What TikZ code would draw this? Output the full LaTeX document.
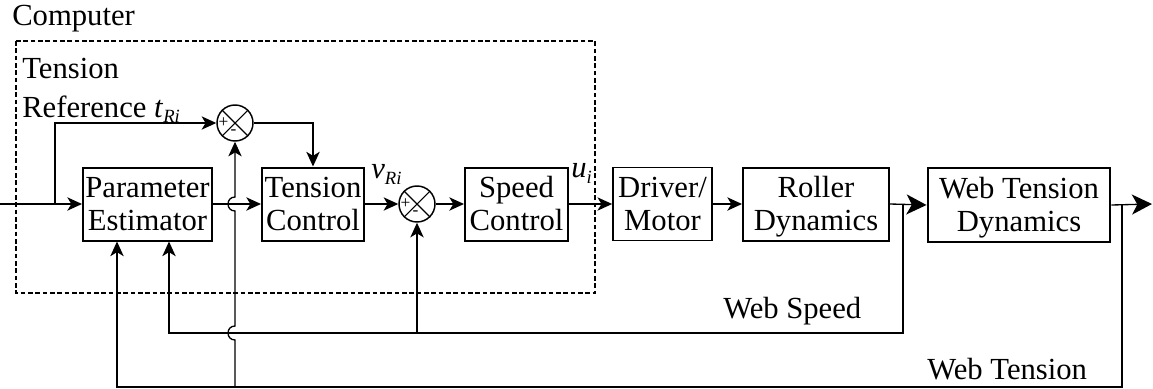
\documentclass[tikz,border=0pt]{standalone}
\usepackage{fontspec}
\setmainfont{Liberation Serif}
\usetikzlibrary{arrows.meta,calc}
\newcommand{\topstrut}{\rule{0pt}{22pt}}
\newcommand{\botstrut}{\rule[-6.8pt]{0pt}{6.8pt}}
\begin{document}
\begin{tikzpicture}[x=0.75pt,y=-0.75pt,
  font=\fontsize{23}{25}\selectfont,
  blk/.style={draw,line width=1.5pt,minimum height=54.75pt,inner sep=0pt,align=center},
  sumc/.style={draw,circle,line width=1.1pt,minimum size=27pt,inner sep=0pt},
  sgn/.style={inner sep=0pt,font=\fontsize{13}{13}\selectfont},
  sig/.style={line width=1pt,-{Stealth[length=11pt,width=10pt,inset=3pt]}},
  bigsig/.style={line width=1pt,-{Stealth[length=15pt,width=15pt,inset=4pt]}},
  lbl/.style={inner sep=0pt,anchor=base west},
  frame/.style={line width=1.2pt,dash pattern=on 3.5pt off 2pt}]
\useasboundingbox (0,0) rectangle (1153,389);
% computer frame
\draw[frame] (16,41) rectangle (595,293);
% labels
\node[lbl] (comp) at (12,26) {Computer};
\node[lbl] (tens) at (22,78) {Tension};
\node[lbl] (ref) at (22,117) {Reference \textit{t}\raisebox{-4pt}{\fontsize{14}{14}\selectfont\itshape Ri}};
\node[lbl] (vri) at (371,178) {\textit{v}\raisebox{-5pt}{\fontsize{14}{14}\selectfont\itshape Ri}};
\node[lbl] (ui) at (571,177) {\textit{u}\raisebox{-5pt}{\fontsize{14}{14}\selectfont\itshape i}};
\node[lbl] (wsp) at (723,318) {Web Speed};
\node[lbl] (wte) at (927,379) {Web Tension};
% blocks
\node[blk,minimum width=96.75pt] (pe) at (147.5,204) {\topstrut Parameter\\Estimator\botstrut};
\node[blk,minimum width=76.5pt] (tc) at (313,204) {\topstrut Tension\\Control\botstrut};
\node[sumc] (s1) at (235,123) {};
\node[sumc] (s2) at (417,204) {};
\node[blk,minimum width=77.25pt] (sc) at (516.5,204) {\topstrut Speed\\Control\botstrut};
\node[blk,line width=1.3pt,minimum width=74.25pt] (dm) at (662.5,204) {\topstrut Driver/\\Motor\botstrut};
\node[blk,minimum width=109.5pt] (rd) at (816,204) {\topstrut Roller\\Dynamics\botstrut};
\node[blk,line width=2.2pt,minimum width=136.5pt,minimum height=55.5pt] (wtd) at (1019,205) {\topstrut Web Tension\\Dynamics\botstrut};
% summing junction marks
\foreach \s in {s1,s2}{
  \draw[line width=0.8pt] (\s.45) -- (\s.225) (\s.135) -- (\s.-45);
  \node[sgn] at ($(\s.center)+(-11.5,0)$) {+};
  \node[sgn] at ($(\s.center)+(-1.5,9.5)$) {-};
}
% coordinates
\coordinate (in) at (0,204);
\coordinate (br) at (55,204);
\coordinate (out) at (1152,204);
\coordinate (ws) at (903,204);
\coordinate (wt) at (1122,204);
\coordinate (wsb) at (903,333);
\coordinate (wtb) at (1122,387);
\coordinate (pe1) at ($(pe.south)+(-30.5,0)$);
\coordinate (pe2) at ($(pe.south)+(21.5,0)$);
% forward path
\draw[sig] (in) -- (pe.west);
\draw[sig] (br) |- (s1.west);
\draw[sig] (s1.east) -| (tc.north);
\draw[sig] (pe.east) -- (tc.west);
\draw[sig] (tc.east) -- (s2.west);
\draw[sig] (s2.east) -- (sc.west);
\draw[sig] (sc.east) -- (dm.west);
\draw[sig] (dm.east) -- (rd.west);
\draw[bigsig] (rd.east) -- (wtd.west);
\draw[bigsig] (wtd.east) -- (out);
% feedback
\draw[sig] (ws) -- (wsb) -| (pe2);
\draw[sig] (wt) -- (wtb) -| (pe1);
\draw[sig] (s2.south |- wsb) -- (s2.south);
\draw[sig] (s1.south |- wtb) -- (235,340)
  .. controls (225.7,340) and (225.7,326) .. (235,326) -- (235,211)
  .. controls (225.7,211) and (225.7,197) .. (235,197) -- (s1.south);
\end{tikzpicture}
\end{document}
